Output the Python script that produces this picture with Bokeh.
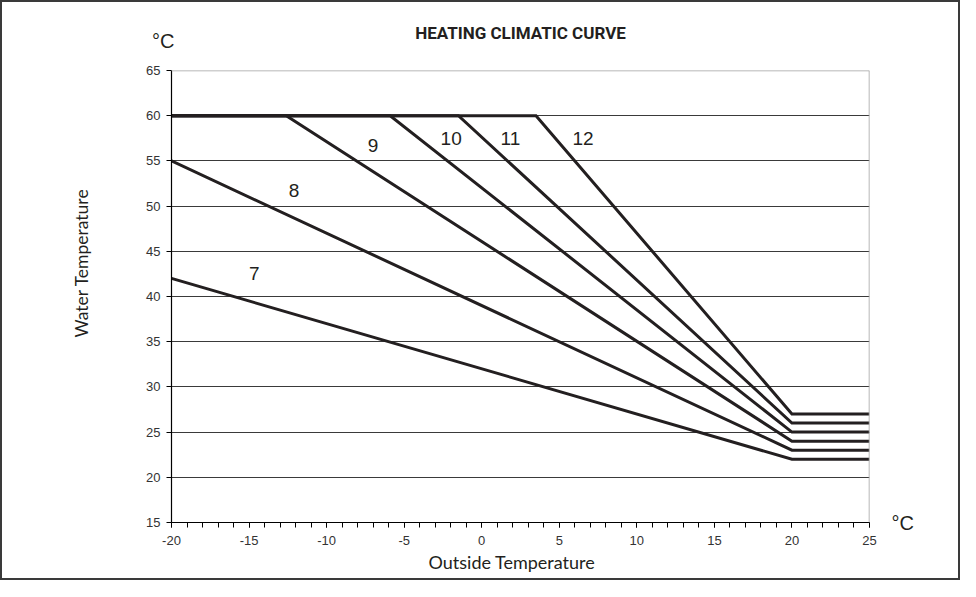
from bokeh.plotting import figure
from bokeh.models import (Range1d, SingleIntervalTicker, FixedTicker, Label, Span, Title,
                          LinearAxis, NumeralTickFormatter)
from bokeh.embed import file_html
from bokeh.resources import INLINE

# ---- data ----
curve_names = ["7", "8", "9", "10", "11", "12"]
c7_x = [-20, 20, 25]
c7_y = [42, 22, 22]
c8_x = [-20, 20, 25]
c8_y = [55, 23, 23]
c9_x = [-20, -12.6, 20, 25]
c9_y = [60, 60, 24, 24]
c10_x = [-20, -5.9, 20, 25]
c10_y = [60, 60, 25, 25]
c11_x = [-20, -1.5, 20, 25]
c11_y = [60, 60, 26, 26]
c12_x = [-20, 3.5, 20, 25]
c12_y = [60, 60, 27, 27]
label_x = [-14.66, -12.1, -7.0, -1.97, 1.85, 6.53]
label_y = [42.5, 51.7, 56.75, 57.5, 57.5, 57.5]
x_start, x_end = -20, 25
y_start, y_end = 15, 65
y_grid_ticks = [20, 25, 30, 35, 40, 45, 50, 55, 60]
unit_text = "°C"
title_text = "HEATING CLIMATIC CURVE"
x_title = "Outside Temperature"
y_title = "Water Temperature"

curves_x = [c7_x, c8_x, c9_x, c10_x, c11_x, c12_x]
curves_y = [c7_y, c8_y, c9_y, c10_y, c11_y, c12_y]

INK = "#231f20"
W, H = 960, 580
NBSP = "\u00a0"

p = figure(width=W, height=H, output_backend="svg", toolbar_location=None,
           x_range=Range1d(x_start, x_end), y_range=Range1d(y_start, y_end),
           min_border_left=169, min_border_right=93, min_border_top=68, min_border_bottom=60,
           background_fill_color="white", border_fill_color="white")
p.styles = {"border": "2px solid #3a3a3a"}
p.outline_line_color = None

# main axes
p.xaxis.ticker = SingleIntervalTicker(interval=5, num_minor_ticks=5)
p.xaxis.formatter = NumeralTickFormatter(format="0")
p.yaxis.ticker = SingleIntervalTicker(interval=5, num_minor_ticks=0)
for ax in (p.xaxis[0], p.yaxis[0]):
    ax.axis_line_color = "black"
    ax.axis_line_width = 1.2
    ax.major_tick_line_color = "black"
    ax.minor_tick_line_color = "black"
    ax.major_tick_in = 0
    ax.major_tick_out = 5
    ax.minor_tick_in = 0
    ax.minor_tick_out = 5
    ax.major_label_text_font = "Liberation Sans"
    ax.major_label_text_font_size = "13px"
    ax.major_label_text_color = "#333333"
p.xaxis.major_label_standoff = 8
p.yaxis.major_label_standoff = 6
p.yaxis.minor_tick_line_color = None

# top axis: carries the unit and the chart title
top_axis = LinearAxis(ticker=FixedTicker(ticks=[x_start]),
                      major_label_overrides={x_start: unit_text + NBSP * 3},
                      axis_line_color=None, major_tick_line_color=None,
                      minor_tick_line_color=None, major_tick_out=0, major_tick_in=0,
                      major_label_standoff=19,
                      major_label_text_font="Liberation Sans",
                      major_label_text_font_size="20px", major_label_text_color=INK,
                      axis_label=title_text, axis_label_standoff=-16,
                      axis_label_text_font="Roboto", axis_label_text_font_style="bold",
                      axis_label_text_font_size="17px", axis_label_text_color=INK)
p.add_layout(top_axis, "above")

# right axis: carries the unit of the outside temperature
right_axis = LinearAxis(ticker=FixedTicker(ticks=[y_start]),
                        major_label_overrides={y_start: unit_text},
                        axis_line_color=None, major_tick_line_color=None,
                        minor_tick_line_color=None, major_tick_out=0, major_tick_in=0,
                        major_label_standoff=22,
                        major_label_text_font="Liberation Sans",
                        major_label_text_font_size="20px", major_label_text_color=INK)
p.add_layout(right_axis, "right")

p.xgrid.visible = False
p.ygrid.ticker = FixedTicker(ticks=y_grid_ticks)
p.ygrid.grid_line_color = "#3a3a3a"
p.ygrid.grid_line_width = 1

# top and right frame borders (gray)
p.add_layout(Span(location=y_end, dimension="width", line_color="#a0a0a0", line_width=1.5))
p.add_layout(Span(location=x_end, dimension="height", line_color="#a0a0a0", line_width=1.5))

for xs, ys in zip(curves_x, curves_y):
    p.line(xs, ys, line_color=INK, line_width=3, line_join="miter")

for name, lx, ly in zip(curve_names, label_x, label_y):
    p.add_layout(Label(x=lx, y=ly, text=name, text_align="center", text_baseline="middle",
                       text_font="Liberation Sans", text_font_size="19px", text_color=INK))

# axis titles
p.add_layout(Title(text=x_title, align="left", offset=257, standoff=3,
                   text_font="Lato", text_font_size="18px", text_font_style="normal",
                   text_color=INK), "below")
p.add_layout(Title(text=y_title, align="left", offset=185, standoff=103,
                   text_font="Lato", text_font_size="17.5px", text_font_style="normal",
                   text_color=INK), "left")

open("out.html", "w").write(file_html(p, INLINE))
